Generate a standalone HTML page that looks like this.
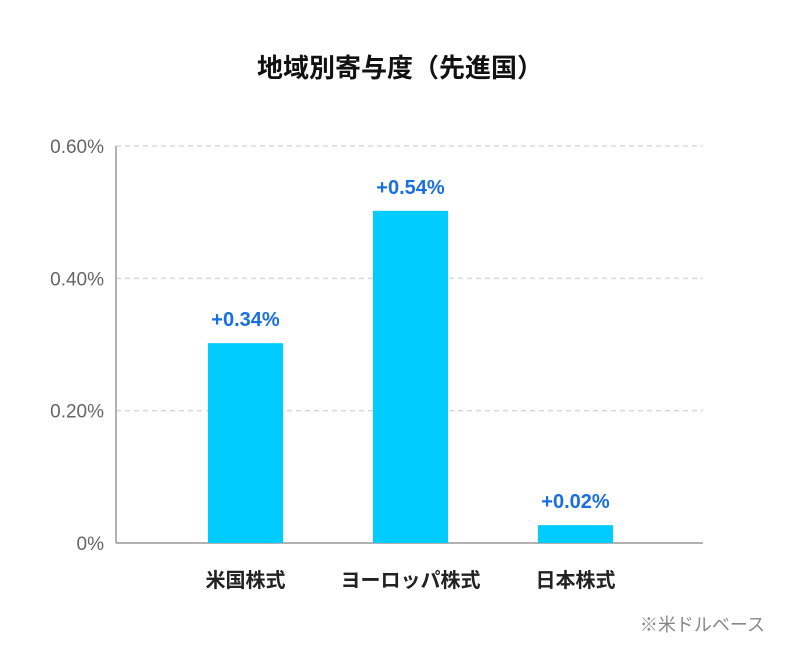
<!DOCTYPE html>
<html><head><meta charset="utf-8"><style>
body{margin:0;background:#fff;width:800px;height:660px;overflow:hidden;font-family:"Liberation Sans","Noto Sans CJK JP",sans-serif}
</style></head><body>
<svg width="800" height="660" xmlns="http://www.w3.org/2000/svg">
<text x="400" y="77" text-anchor="middle" font-size="26" font-weight="bold" fill="#111" font-family="Liberation Sans, Noto Sans CJK JP, sans-serif">地域別寄与度（先進国）</text>
<g id="grid"></g><g id="bars"></g>
<text x="765" y="631" text-anchor="end" font-size="18" fill="#888" font-family="Liberation Sans, Noto Sans CJK JP, sans-serif">※米ドルベース</text>
</svg>
<script>
const categories=["米国株式","ヨーロッパ株式","日本株式"];
const barValues=[0.302,0.502,0.027];
const valueLabels=["+0.34%","+0.54%","+0.02%"];
const tickValues=[0,0.2,0.4,0.6];
const tickLabels=["0%","0.20%","0.40%","0.60%"];
const NS="http://www.w3.org/2000/svg";
const x0=116,x1=703,y0=543,y1=146,maxV=0.6;
const y=v=>y0-(v/maxV)*(y0-y1);
const xc=i=>245.5+i*165;
function mk(t,a,p){const e=document.createElementNS(NS,t);for(const k in a)e.setAttribute(k,a[k]);p.appendChild(e);return e;}
const g=document.getElementById('grid'),b=document.getElementById('bars');
tickValues.forEach((v,i)=>{
 if(v>0){const l=mk('line',{x1:x0,x2:x1,y1:y(v),y2:y(v),stroke:'#d8d8d8','stroke-width':1.5,'stroke-dasharray':'5,4'},g);
 
 }
 const t=mk('text',{x:104,y:y(v)+7,'text-anchor':'end','font-size':19,fill:'#666'},g);
 t.textContent=tickLabels[i];
 
 
});
const ya=mk('line',{x1:x0,x2:x0,y1:y1,y2:y0,stroke:'#999','stroke-width':1.5},g);


const xa=mk('line',{x1:x0,x2:x1,y1:y0,y2:y0,stroke:'#999','stroke-width':1.5},g);


categories.forEach((c,i)=>{
 const r=mk('rect',{x:xc(i)-37.5,y:y(barValues[i]),width:75,height:y0-y(barValues[i]),fill:'#00ccff'},b);
 
 
 const t=mk('text',{x:xc(i),y:y(barValues[i])-17,'text-anchor':'middle','font-size':20,'font-weight':'bold',fill:'#1a6fe0'},b);
 t.textContent=valueLabels[i];
 
 
 const cl=mk('text',{x:xc(i),y:587,'text-anchor':'middle','font-size':20,'font-weight':'bold',fill:'#222'},b);
 cl.textContent=c;
 
 
});
</script>
</body></html>
